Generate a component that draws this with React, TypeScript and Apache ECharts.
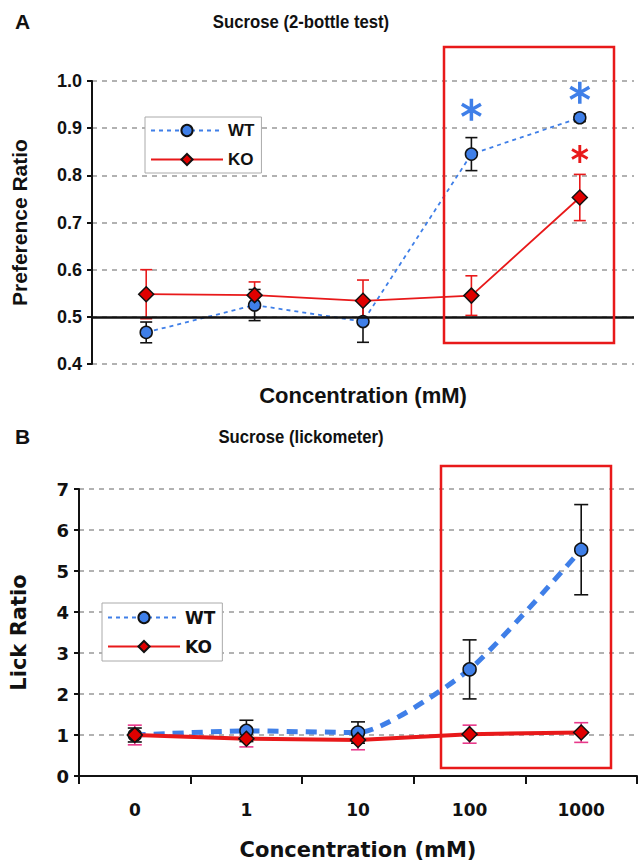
import React, { useEffect, useRef } from 'react';
import * as echarts from 'echarts';

// ---------- data ----------
const categories = ['0', '1', '10', '100', '1000'];

// Panel A: Sucrose (2-bottle test), preference ratio
const bottleWT = [0.467, 0.525, 0.49, 0.845, 0.922];
const bottleWTErr = [0.022, 0.033, 0.044, 0.035, 0.008];
const bottleKO = [0.548, 0.546, 0.534, 0.545, 0.753];
const bottleKOErr = [0.052, 0.028, 0.044, 0.042, 0.049];
const bottleStarsWT = [
  { cat: '100', y: 0.939 },
  { cat: '1000', y: 0.975 },
];
const bottleStarsKO = [{ cat: '1000', y: 0.845 }];

// Panel B: Sucrose (lickometer), lick ratio
const lickWT = [1.0, 1.1, 1.06, 2.6, 5.52];
const lickWTErr = [0.17, 0.26, 0.26, 0.72, 1.1];
const lickKO = [1.0, 0.91, 0.88, 1.02, 1.06];
const lickKOErr = [0.24, 0.2, 0.24, 0.22, 0.24];
const lickStarsWT = [{ cat: '1000', y: 7.02 }];

const BLUE = '#3f7fe8';
const RED = '#e8191a';
const PINK = '#e8388a';
const INK = '#111';

const ARIAL = 'Liberation Sans, Arial, sans-serif';
const VERDANA = 'DejaVu Sans, Verdana, sans-serif';

const STAR =
  'path://M-0.16 -1 L0.16 -1 L0.16 1 L-0.16 1 Z M-0.946 -0.361 L-0.786 -0.639 L0.946 0.361 L0.786 0.639 Z M0.786 -0.639 L0.946 -0.361 L-0.786 0.639 L-0.946 0.361 Z';

function errorSeries(
  xAxisIndex: number,
  means: number[],
  errs: number[],
  color: string,
  cap: number
) {
  return {
    type: 'custom',
    xAxisIndex,
    yAxisIndex: xAxisIndex,
    z: 1,
    silent: true,
    data: means.map((m, i) => [i, m - errs[i], m + errs[i]]),
    encode: { x: 0, y: [1, 2] },
    renderItem: (params: any, api: any) => {
      const x = api.value(0);
      const lo = api.coord([x, api.value(1)]);
      const hi = api.coord([x, api.value(2)]);
      const st = { stroke: color, lineWidth: 1.6 };
      return {
        type: 'group',
        children: [
          { type: 'line', shape: { x1: lo[0], y1: lo[1], x2: hi[0], y2: hi[1] }, style: st },
          { type: 'line', shape: { x1: lo[0] - cap, y1: lo[1], x2: lo[0] + cap, y2: lo[1] }, style: st },
          { type: 'line', shape: { x1: hi[0] - cap, y1: hi[1], x2: hi[0] + cap, y2: hi[1] }, style: st },
        ],
      };
    },
  };
}

function starMarks(stars: { cat: string; y: number }[], color: string, size: number) {
  return {
    symbol: STAR,
    symbolSize: size,
    symbolKeepAspect: true,
    silent: true,
    itemStyle: { color },
    label: { show: false },
    data: stars.map((s) => ({ coord: [categories.indexOf(s.cat), s.y] })),
  };
}

export default function App() {
  const ref = useRef<HTMLDivElement>(null);

  useEffect(() => {
    document.body.style.margin = '0';
    if (!ref.current) return;
    const chart = echarts.init(ref.current, undefined, { renderer: 'svg' });

    const gridLine = { show: true, lineStyle: { color: '#999', type: [5, 5], width: 1.5 } };

    const option: any = {
      animation: false,
      backgroundColor: '#fff',
      grid: [
        { left: 92, top: 81, width: 542, height: 283 },
        { left: 79, top: 489, width: 558, height: 292 },
      ],
      xAxis: [
        {
          gridIndex: 0,
          type: 'category',
          data: categories,
          boundaryGap: true,
          axisLine: { show: false },
          axisTick: { show: false },
          axisLabel: { show: false },
          splitLine: { show: false },
          name: 'Concentration (mM)',
          nameLocation: 'middle',
          nameGap: 20,
          nameTextStyle: { fontFamily: ARIAL, fontWeight: 'bold', fontSize: 22, color: INK },
        },
        {
          gridIndex: 1,
          type: 'category',
          data: categories,
          boundaryGap: true,
          axisLine: { show: true, onZero: false, lineStyle: { color: INK, width: 2 } },
          axisTick: { show: true, length: 8, lineStyle: { color: INK, width: 2 } },
          axisLabel: { fontFamily: VERDANA, fontWeight: 'bold', fontSize: 17, color: INK, margin: 25 },
          splitLine: { show: false },
          name: 'Concentration (mM)',
          nameLocation: 'middle',
          nameGap: 63,
          nameTextStyle: { fontFamily: VERDANA, fontWeight: 'bold', fontSize: 21, color: INK },
        },
      ],
      yAxis: [
        {
          gridIndex: 0,
          type: 'value',
          min: 0.4,
          max: 1.0,
          interval: 0.1,
          axisLine: { show: true, lineStyle: { color: INK, width: 2 } },
          axisTick: { show: true, length: 5, lineStyle: { color: INK, width: 2 } },
          axisLabel: {
            formatter: (v: number) => v.toFixed(1),
            fontFamily: ARIAL,
            fontWeight: 'bold',
            fontSize: 18,
            color: INK,
            margin: 10,
          },
          splitLine: gridLine,
          name: 'Preference Ratio',
          nameLocation: 'middle',
          nameGap: 62,
          nameTextStyle: { fontFamily: ARIAL, fontWeight: 'bold', fontSize: 21, color: INK },
        },
        {
          gridIndex: 1,
          type: 'value',
          min: 0,
          max: 7,
          interval: 1,
          axisLine: { show: true, lineStyle: { color: INK, width: 2 } },
          axisTick: { show: true, length: 5, lineStyle: { color: INK, width: 2 } },
          axisLabel: { fontFamily: VERDANA, fontWeight: 'bold', fontSize: 18, color: INK, margin: 10 },
          splitLine: gridLine,
          name: 'Lick Ratio',
          nameLocation: 'middle',
          nameGap: 50,
          nameTextStyle: { fontFamily: VERDANA, fontWeight: 'bold', fontSize: 21, color: INK },
        },
      ],
      legend: [
        {
          left: 145,
          top: 117,
          orient: 'vertical',
          data: ['WT', 'KO'],
          itemWidth: 72,
          itemHeight: 14,
          itemGap: 12,
          padding: [5, 7, 5, 5],
          borderColor: '#aaa',
          borderWidth: 1,
          backgroundColor: '#fff',
          selectedMode: false,
          textStyle: { fontFamily: ARIAL, fontWeight: 'bold', fontSize: 17, color: INK },
        },
        {
          left: 102,
          top: 603,
          orient: 'vertical',
          data: ['WT', 'KO'],
          itemWidth: 72,
          itemHeight: 14,
          itemGap: 12,
          padding: [6, 7, 6, 5],
          borderColor: '#aaa',
          borderWidth: 1,
          backgroundColor: '#fff',
          selectedMode: false,
          textStyle: { fontFamily: VERDANA, fontWeight: 'bold', fontSize: 17, color: INK },
        },
      ],
      series: [
        errorSeries(0, bottleWT, bottleWTErr, INK, 6),
        errorSeries(0, bottleKO, bottleKOErr, RED, 6),
        {
          name: 'WT',
          type: 'line',
          xAxisIndex: 0,
          yAxisIndex: 0,
          data: bottleWT,
          z: 3,
          symbol: 'circle',
          symbolSize: 12,
          itemStyle: { color: BLUE, borderColor: INK, borderWidth: 1.5 },
          lineStyle: { color: BLUE, type: [4, 4], width: 1.8 },
          markLine: {
            silent: true,
            symbol: 'none',
            label: { show: false },
            lineStyle: { color: INK, type: 'solid', width: 2.5 },
            data: [{ yAxis: 0.5 }],
          },
          markPoint: starMarks(bottleStarsWT, BLUE, 22),
        },
        {
          name: 'KO',
          type: 'line',
          xAxisIndex: 0,
          yAxisIndex: 0,
          data: bottleKO,
          z: 4,
          symbol: 'diamond',
          symbolSize: 15,
          itemStyle: { color: '#e00000', borderColor: INK, borderWidth: 1.5 },
          lineStyle: { color: RED, type: 'solid', width: 1.8 },
          markPoint: starMarks(bottleStarsKO, RED, 18),
        },
        errorSeries(1, lickWT, lickWTErr, INK, 7),
        errorSeries(1, lickKO, lickKOErr, PINK, 7),
        {
          name: 'WT',
          type: 'line',
          xAxisIndex: 1,
          yAxisIndex: 1,
          data: lickWT,
          smooth: 0.2,
          z: 3,
          symbol: 'circle',
          symbolSize: 13,
          itemStyle: { color: BLUE, borderColor: INK, borderWidth: 1.5 },
          lineStyle: { color: BLUE, type: [11, 8], width: 5 },
          markPoint: starMarks(lickStarsWT, BLUE, 21),
        },
        {
          name: 'KO',
          type: 'line',
          xAxisIndex: 1,
          yAxisIndex: 1,
          data: lickKO,
          z: 4,
          symbol: 'diamond',
          symbolSize: 15,
          itemStyle: { color: '#e00000', borderColor: INK, borderWidth: 1.5 },
          lineStyle: { color: RED, type: 'solid', width: 4 },
        },
      ],
      graphic: [
        {
          type: 'text',
          left: 15,
          top: 11,
          style: { text: 'A', font: `bold 21px ${ARIAL}`, fill: INK },
        },
        {
          type: 'text',
          x: 301,
          y: 22,
          scaleX: 0.88,
          style: {
            text: 'Sucrose (2-bottle test)',
            font: `bold 19px ${ARIAL}`,
            fill: INK,
            textAlign: 'center',
            textVerticalAlign: 'middle',
          },
        },
        {
          type: 'text',
          left: 15,
          top: 426,
          style: { text: 'B', font: `bold 21px ${ARIAL}`, fill: INK },
        },
        {
          type: 'text',
          x: 301,
          y: 437,
          scaleX: 0.88,
          style: {
            text: 'Sucrose (lickometer)',
            font: `bold 19px ${ARIAL}`,
            fill: INK,
            textAlign: 'center',
            textVerticalAlign: 'middle',
          },
        },
        {
          type: 'rect',
          shape: { x: 444, y: 47, width: 170, height: 296 },
          style: { fill: 'none', stroke: RED, lineWidth: 2.5 },
          z: 10,
        },
        {
          type: 'rect',
          shape: { x: 441, y: 466, width: 170, height: 302 },
          style: { fill: 'none', stroke: RED, lineWidth: 2.5 },
          z: 10,
        },
      ],
    };

    chart.setOption(option);
    return () => chart.dispose();
  }, []);

  return <div ref={ref} style={{ width: 641, height: 861 }} />;
}
